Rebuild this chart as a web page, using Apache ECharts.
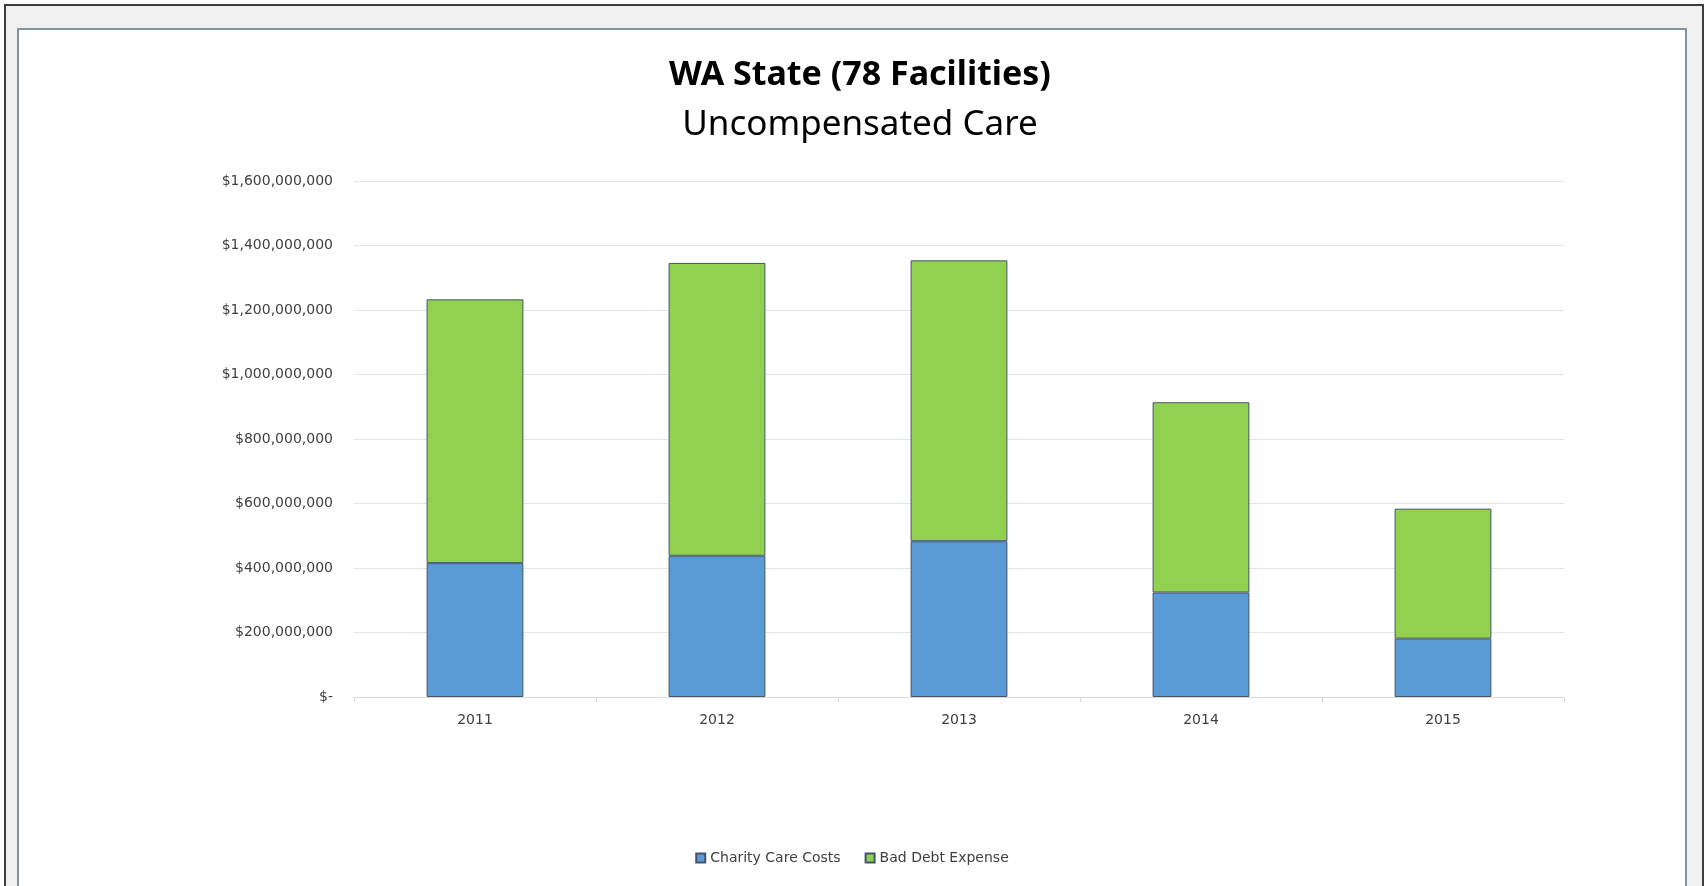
<!DOCTYPE html>
<html>
<head>
<meta charset="utf-8">
<title>WA State - Uncompensated Care</title>
<script src="https://cdn.jsdelivr.net/npm/echarts@6/dist/echarts.min.js"></script>
<style>
  html, body { margin: 0; padding: 0; width: 1707px; height: 886px; overflow: hidden; background: #fff; }
  .frame { position: absolute; left: 4px; top: 4px; width: 1700px; height: 900px; box-sizing: border-box; border: 2px solid #3c3c3c; background: #f0f0f0; }
  .box { position: absolute; left: 17px; top: 28px; width: 1670px; height: 880px; box-sizing: border-box; border: 2px solid #8393a8; background: #fff; }
  #myChart { width: 100%; height: 100%; }
</style>
</head>
<body>
<div class="frame"></div>
<div class="box"><div id="myChart"></div></div>
<script>
  // values (dollars)
  var years = ['2011', '2012', '2013', '2014', '2015'];
  var charityCare = [415000000, 438000000, 483000000, 324000000, 181000000];
  var badDebt = [818000000, 908000000, 871000000, 590000000, 403000000];
  var seriesNames = ['Charity Care Costs', 'Bad Debt Expense'];

  var colors = ['#5b9bd5', '#92d050'];
  var labelFont = 'DejaVu Sans';

  function money(v) {
    if (v === 0) return '$-';
    return '$' + String(v).replace(/\B(?=(\d{3})+(?!\d))/g, ',');
  }

  var myChart = echarts.init(document.getElementById('myChart'));
  var option = {
    animation: false,
    color: colors,
    graphic: [
      {
        type: 'text', x: 841, y: 45,
        style: { text: 'WA State (78 Facilities)', font: 'bold 34px "Noto Sans"', fill: '#000', textAlign: 'center', textVerticalAlign: 'middle' }
      },
      {
        type: 'text', x: 841, y: 95,
        style: { text: 'Uncompensated Care', font: '35px "Noto Sans"', fill: '#000', textAlign: 'center', textVerticalAlign: 'middle' }
      }
    ],
    legend: {
      data: seriesNames,
      left: 'center',
      top: 816,
      icon: 'rect',
      itemWidth: 9,
      itemHeight: 9,
      itemGap: 24,
      textStyle: { fontFamily: labelFont, fontSize: 14, color: '#404040' }
    },
    grid: {
      left: 335,
      top: 151,
      width: 1210,
      height: 516
    },
    xAxis: {
      type: 'category',
      data: years,
      axisLine: { lineStyle: { color: '#d9d9d9' } },
      axisTick: { show: true, length: 5, lineStyle: { color: '#d9d9d9' } },
      axisLabel: { margin: 16, fontFamily: labelFont, fontSize: 14, color: '#404040' }
    },
    yAxis: {
      type: 'value',
      min: 0,
      max: 1600000000,
      interval: 200000000,
      axisLine: { show: false },
      axisTick: { show: false },
      splitLine: { lineStyle: { color: '#e2e6ec' } },
      axisLabel: { margin: 21, fontFamily: labelFont, fontSize: 14, color: '#404040', formatter: money }
    },
    series: [
      {
        name: seriesNames[0],
        type: 'bar',
        stack: 'total',
        barWidth: '40%',
        itemStyle: { color: colors[0], borderColor: '#44546a', borderWidth: 1 },
        data: charityCare
      },
      {
        name: seriesNames[1],
        type: 'bar',
        stack: 'total',
        barWidth: '40%',
        itemStyle: { color: colors[1], borderColor: '#44546a', borderWidth: 1 },
        data: badDebt
      }
    ]
  };
  myChart.setOption(option);
</script>
</body>
</html>
